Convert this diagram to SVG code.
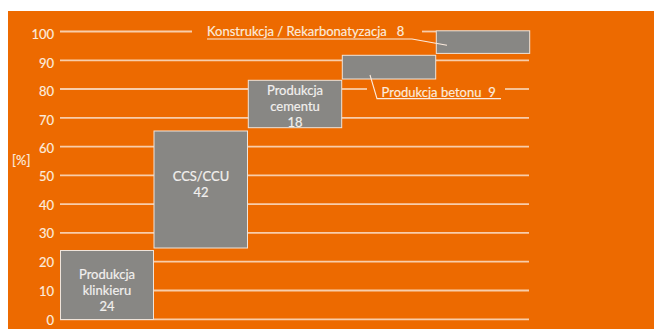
<svg xmlns="http://www.w3.org/2000/svg" width="654" height="329" viewBox="0 0 654 329">
<style>
.grid{stroke:#F8CDAA;stroke-width:1.8;fill:none}
.box{fill:#888784;stroke:#EFE4DA;stroke-width:1}
text{font-family:Lato,"Liberation Sans",sans-serif;font-size:13px;stroke-width:0.18px}
.ax{fill:#FCEBDD;stroke:#FCEBDD;text-anchor:end}
.bt{fill:#F2F0EE;stroke:#F2F0EE;text-anchor:middle}
.an{fill:#FCEBDD;stroke:#FCEBDD}
.ld{stroke:#FCEBDD;stroke-width:1.1;fill:none}
</style>
<rect x="0" y="0" width="654" height="329" fill="#FFFFFF"/>
<rect x="8" y="11" width="646" height="318" fill="#ED6A00"/>
<g id="gridlines">
<line class="grid" x1="60" y1="31.5" x2="192" y2="31.5"/>
<line class="grid" x1="422" y1="31.5" x2="436" y2="31.5"/>
<line class="grid" x1="60" y1="60.3" x2="342" y2="60.3"/>
<line class="grid" x1="436" y1="60.3" x2="529" y2="60.3"/>
<line class="grid" x1="60" y1="89" x2="248" y2="89"/>
<line class="grid" x1="342" y1="89" x2="367" y2="89"/>
<line class="grid" x1="505" y1="89" x2="529" y2="89"/>
<line class="grid" x1="60" y1="117.8" x2="529" y2="117.8"/>
<line class="grid" x1="60" y1="146.6" x2="529" y2="146.6"/>
<line class="grid" x1="60" y1="175.4" x2="529" y2="175.4"/>
<line class="grid" x1="60" y1="204.1" x2="529" y2="204.1"/>
<line class="grid" x1="60" y1="232.9" x2="529" y2="232.9"/>
<line class="grid" x1="60" y1="261.7" x2="529" y2="261.7"/>
<line class="grid" x1="60" y1="290.5" x2="529" y2="290.5"/>
<line class="grid" x1="60" y1="319.3" x2="529" y2="319.3"/>
</g>
<g id="axis">
<text class="ax" x="54" y="39">100</text>
<text class="ax" x="54" y="67.7">90</text>
<text class="ax" x="54" y="96.3">80</text>
<text class="ax" x="54" y="124.7">70</text>
<text class="ax" x="54" y="152.8">60</text>
<text class="ax" x="54" y="181.2">50</text>
<text class="ax" x="54" y="209.8">40</text>
<text class="ax" x="54" y="238.4">30</text>
<text class="ax" x="54" y="267">20</text>
<text class="ax" x="54" y="295.8">10</text>
<text class="ax" x="54" y="324.5">0</text>
<text class="an" x="12" y="165">[%]</text>
</g>
<g id="klinkier">
<rect class="box" x="60.5" y="250.5" width="93" height="69"/>
<text class="bt" x="107" y="279">Produkcja</text>
<text class="bt" x="107" y="295">klinkieru</text>
<text class="bt" x="107" y="311">24</text>
</g>
<g id="ccs">
<rect class="box" x="154" y="131" width="93.5" height="117"/>
<text class="bt" x="201" y="181">CCS/CCU</text>
<text class="bt" x="201" y="197">42</text>
</g>
<g id="cement">
<rect class="box" x="248.3" y="80.3" width="93.4" height="47.4"/>
<text class="bt" x="295" y="94.5">Produkcja</text>
<text class="bt" x="295" y="110.5">cementu</text>
<text class="bt" x="295" y="126.5">18</text>
</g>
<g id="beton">
<rect class="box" x="342.3" y="55.3" width="93.4" height="23.7"/>
</g>
<g id="konstrukcja">
<rect class="box" x="436.3" y="30.8" width="93.4" height="22.6"/>
</g>
<g id="connectors">
<polyline class="ld" points="447,45.3 412,39 207,39"/>
<polyline class="ld" points="370,75 377,98.6 501,98.6"/>
</g>
<g id="labels">
<text class="an" x="207" y="36.3" xml:space="preserve">Konstrukcja / Rekarbonatyzacja   8</text>
<text class="an" x="381.5" y="96.5" xml:space="preserve">Produkcja betonu  9</text>
</g>
</svg>
